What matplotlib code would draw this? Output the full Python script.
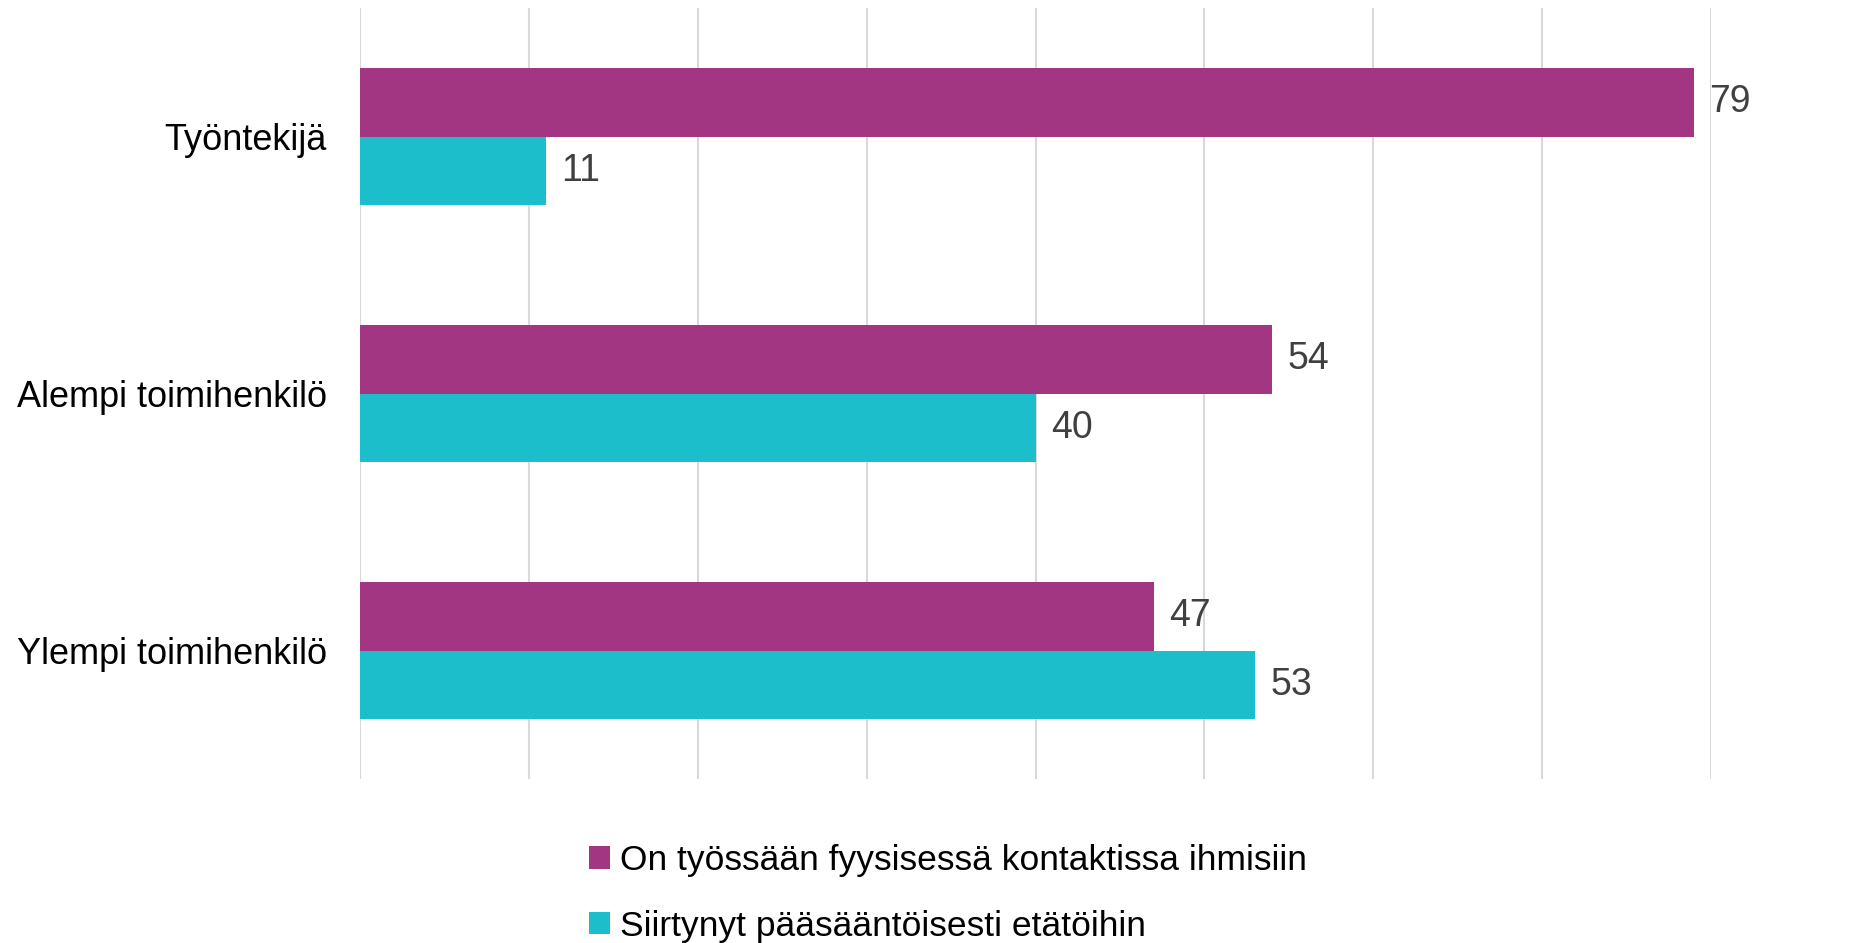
# plot.py
# Grouped horizontal bar chart: physical contact vs. remote work by job category

import numpy as np
import matplotlib
matplotlib.use("Agg")
import matplotlib.pyplot as plt

categories = ["Työntekijä", "Alempi toimihenkilö", "Ylempi toimihenkilö"]
contact_values = [79, 54, 47]
remote_values = [11, 40, 53]
series_names = ["On työssään fyysisessä kontaktissa ihmisiin",
                "Siirtynyt pääsääntöisesti etätöihin"]

MAGENTA = "#A23682"
TEAL = "#1BBECA"

plt.rcParams['font.family'] = ['Liberation Sans', 'DejaVu Sans']

def main():
    fig = plt.figure(figsize=(18.68, 9.43), dpi=100)
    ax = fig.add_axes([0.1927, 0.1739, 0.7233, 0.8176])

    y = np.arange(len(categories))
    h = 0.265
    b1 = ax.barh(y - h / 2, contact_values, height=h, color=MAGENTA,
                 label=series_names[0])
    b2 = ax.barh(y + h / 2, remote_values, height=h, color=TEAL,
                 label=series_names[1])

    for bars in (b1, b2):
        ax.bar_label(bars, padding=11, fontsize=27, color="#404040")

    ax.set_xlim(0, 80)
    ax.set_ylim(2.5, -0.5)
    ax.set_xticks(range(0, 81, 10))
    ax.set_xticklabels([])
    ax.set_yticks(y)
    ax.set_yticklabels(categories, fontsize=26)
    ax.tick_params(axis='both', length=0)
    ax.tick_params(axis='y', pad=24)
    ax.xaxis.grid(True, color="#d9d9d9", linewidth=1.5)
    ax.set_axisbelow(True)
    for s in ax.spines.values():
        s.set_visible(False)

    fig.legend(handles=[b1, b2], loc="upper left",
               bbox_to_anchor=(589 / 1868, 1 - 844 / 943),
               frameon=False, fontsize=25.5, borderpad=0, borderaxespad=0,
               handlelength=0.6, handleheight=0.6, handletextpad=0.27,
               labelspacing=0.92)

    fig.savefig("out.png", dpi=100)
    plt.close(fig)

if __name__ == "__main__":
    main()
